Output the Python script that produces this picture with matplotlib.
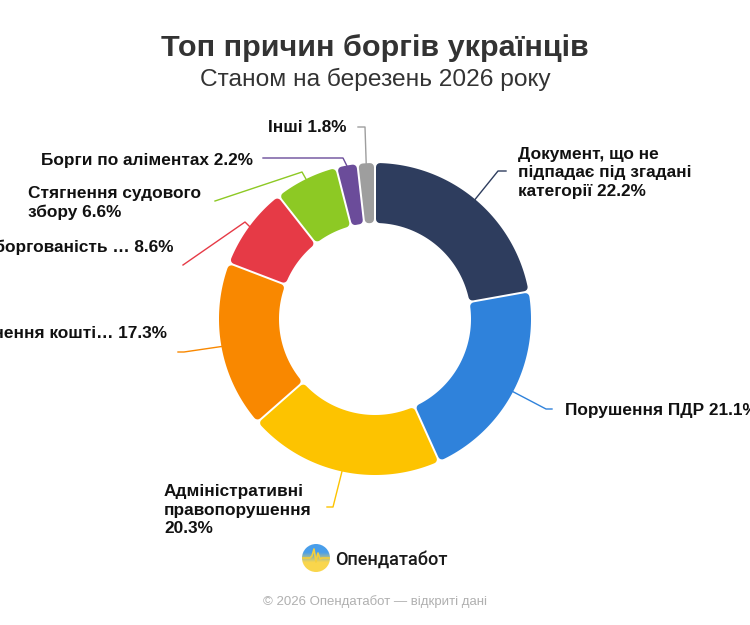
import numpy as np
import matplotlib
matplotlib.use("Agg")
import matplotlib.pyplot as plt
from matplotlib.patches import Polygon, Circle

# data
names = [
    "Документ, що не\nпідпадає під згадані\nкатегорії",
    "Порушення ПДР",
    "Адміністративні\nправопорушення",
    "Стягнення кошті…",
    "Заборгованість …",
    "Стягнення судового\nзбору",
    "Борги по аліментах",
    "Інші",
]
shares = [22.2, 21.1, 20.3, 17.3, 8.6, 6.6, 2.2, 1.8]
colors = ["#2e3d5e", "#2f82db", "#fdc300", "#f98800",
          "#e63a46", "#8dc924", "#6b4c9a", "#9e9e9e"]

title = "Топ причин боргів українців"
subtitle = "Станом на березень 2026 року"
brand = "Опендатабот"
footer = "© 2026 Опендатабот — відкриті дані"

PX = 0.72  # points per pixel at dpi 100
CX, CY = 375, 319
R_OUT, R_IN = 156, 96

# label layout: extra line points after the wedge edge, text pos, alignment, separator
label_layout = [
    dict(pts=[(498, 171), (506, 171)], xy=(518, 173), ha="left", sep=" "),
    dict(pts=[(546, 409), (552, 409)], xy=(565, 411), ha="left", sep=" "),
    dict(pts=[(333, 507), (327, 507)], xy=(164, 510), ha="left", sep="\n"),
    dict(pts=[(184, 352), (178, 352)], xy=(167, 333), ha="right", sep=" "),
    dict(pts=[(245, 222), (183, 265)], xy=(174, 247), ha="right", sep=" "),
    dict(pts=[(302, 172), (215, 201)], xy=(28, 203), ha="left", sep=" "),
    dict(pts=[(343, 158), (263, 158)], xy=(253, 160), ha="right", sep=" "),
    dict(pts=[(365, 127), (358, 127)], xy=(347, 127), ha="right", sep=" "),
]


def rounded_segment(t1, t2, ri, ro, corner=4.0, gap=1.0):
    """Ring segment inset so that a round-joined stroke gives soft corners."""
    off = corner + gap
    r_o, r_i = ro - corner, ri + corner
    a1, a2 = np.radians(t1), np.radians(t2)
    o1, o2 = a1 + np.arcsin(off / r_o), a2 - np.arcsin(off / r_o)
    i1, i2 = a1 + np.arcsin(off / r_i), a2 - np.arcsin(off / r_i)
    if i2 < i1:
        i1 = i2 = (a1 + a2) / 2
    if o2 < o1:
        o1 = o2 = (a1 + a2) / 2
    ang_o = np.linspace(o1, o2, 80)
    ang_i = np.linspace(i2, i1, 80)
    xs = np.r_[CX + r_o * np.cos(ang_o), CX + r_i * np.cos(ang_i)]
    ys = np.r_[CY + r_o * np.sin(ang_o), CY + r_i * np.sin(ang_i)]
    return np.column_stack([xs, ys])


fig = plt.figure(figsize=(7.5, 6.25), dpi=100)
ax = fig.add_axes([0, 0, 1, 1])

# y axis runs downwards, so counterclock=True in data is clockwise on screen
wedges, _ = ax.pie(shares, colors=colors, startangle=-90, counterclock=True,
                   center=(CX, CY), radius=R_OUT,
                   wedgeprops=dict(width=R_OUT - R_IN))
ax.set_xlim(0, 750)
ax.set_ylim(625, 0)
ax.set_aspect("equal")
ax.axis("off")

corner = 4.0
for w, col, name, val, lay in zip(wedges, colors, names, shares, label_layout):
    t1, t2 = w.theta1, w.theta2
    w.set_visible(False)
    ax.add_patch(Polygon(rounded_segment(t1, t2, R_IN, R_OUT, corner), closed=True,
                         facecolor=col, edgecolor=col, lw=2 * corner * PX,
                         joinstyle="round", zorder=3))
    mid = np.radians((t1 + t2) / 2)
    start = (CX + R_OUT * np.cos(mid), CY + R_OUT * np.sin(mid))
    path = [start] + lay["pts"]
    ax.plot([p[0] for p in path], [p[1] for p in path], color=col, lw=1, zorder=2)
    ax.text(lay["xy"][0], lay["xy"][1], f"{name}{lay['sep']}{val:.1f}%",
            ha=lay["ha"], va="center", multialignment="left",
            fontsize=17.2 * PX, fontweight="bold", color="#111111",
            family="Liberation Sans", linespacing=1.33)

ax.text(375, 56, title, ha="center", va="baseline", fontsize=30.5 * PX,
        fontweight="bold", color="#333333", family="Liberation Sans")
ax.text(375, 86, subtitle, ha="center", va="baseline", fontsize=24.5 * PX,
        color="#333333", family="Liberation Sans")

# brand logo: blue/yellow circle with a pulse line
lx, ly, lr = 316, 558, 14
grad = np.linspace(0, 1, 100)[:, None]
top = np.array([0.29, 0.62, 0.92])
bottom = np.array([0.98, 0.84, 0.30])
img = top + (bottom - top) * np.clip((grad - 0.3) / 0.35, 0, 1)[..., None]
img = np.repeat(img, 2, axis=1)
im = ax.imshow(img, extent=(lx - lr, lx + lr, ly + lr, ly - lr), zorder=4,
               interpolation="bilinear")
im.set_clip_path(Circle((lx, ly), lr, transform=ax.transData))
pulse_x = lx + np.array([-14, -6, -4, -2, 0, 2, 4, 6, 14])
pulse_y = ly + np.array([0, 0, -2, -9, 4, -5, 1, 0, 0])
pl, = ax.plot(pulse_x, pulse_y, color="#f4cf3c", lw=1.2, zorder=5)
pl.set_clip_path(Circle((lx, ly), lr, transform=ax.transData))
ax.set_xlim(0, 750)
ax.set_ylim(625, 0)

ax.text(335, 564.5, brand, ha="left", va="baseline", fontsize=18.2 * PX,
        fontweight="medium", color="#1a1a1a", family="Roboto")
ax.text(375, 602, footer, ha="center", va="center", fontsize=13.2 * PX,
        color="#b0b0b0", family="Liberation Sans")

fig.savefig("out.png", dpi=100, facecolor="white")
